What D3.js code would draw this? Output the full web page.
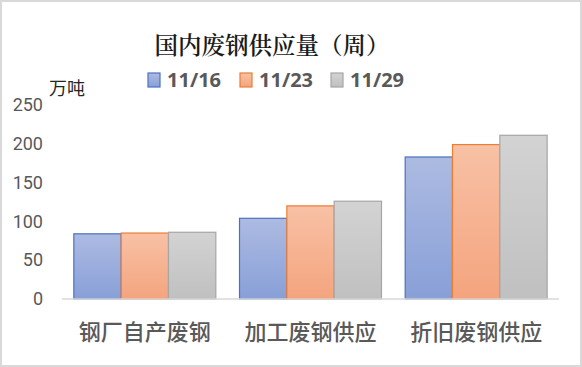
<!DOCTYPE html>
<html>
<head>
<meta charset="utf-8">
<script src="https://cdn.jsdelivr.net/npm/d3@7"></script>
<style>
  html, body { margin: 0; padding: 0; background: #fff; }
  svg { display: block; }
</style>
</head>
<body>
<div id="chart"></div>
<script>
// 数据
const categories = ["钢厂自产废钢", "加工废钢供应", "折旧废钢供应"];
const seriesNames = ["11/16", "11/23", "11/29"];
const values1116 = [84, 104, 183];
const values1123 = [85, 120, 199];
const values1129 = [86, 126, 211];
const yTicks = [0, 50, 100, 150, 200, 250];

const seriesValues = [values1116, values1123, values1129];
const palette = [
  { top: "#adbbe2", bottom: "#889fd7", stroke: "#4a72c0" },
  { top: "#f8c1a5", bottom: "#f4a47e", stroke: "#ec7d36" },
  { top: "#d3d3d3", bottom: "#c0c0c0", stroke: "#a6a6a6" }
];

const W = 582, H = 367;
const margin = { top: 105, right: 23, bottom: 68, left: 62 };

const svg = d3.select("#chart").append("svg")
  .attr("width", W).attr("height", H);

// 外框
svg.append("rect")
  .attr("x", 1).attr("y", 1).attr("width", W - 2).attr("height", H - 2)
  .attr("fill", "#fff").attr("stroke", "#d9d9d9").attr("stroke-width", 2);

// 渐变
const defs = svg.append("defs");
palette.forEach((p, i) => {
  const g = defs.append("linearGradient")
    .attr("id", "grad" + i).attr("x1", 0).attr("y1", 0).attr("x2", 0).attr("y2", 1);
  g.append("stop").attr("offset", "0%").attr("stop-color", p.top);
  g.append("stop").attr("offset", "100%").attr("stop-color", p.bottom);
});

const x0 = d3.scaleBand()
  .domain(categories)
  .range([margin.left, W - margin.right])
  .paddingInner(0.143).paddingOuter(0.0715);

const x1 = d3.scaleBand()
  .domain(seriesNames)
  .range([0, x0.bandwidth()]);

const y = d3.scaleLinear()
  .domain([0, 250])
  .range([H - margin.bottom, margin.top]);

// 柱子
categories.forEach((c, ci) => {
  seriesNames.forEach((s, si) => {
    const v = seriesValues[si][ci];
    svg.append("rect")
      .attr("x", x0(c) + x1(s))
      .attr("y", y(v))
      .attr("width", x1.bandwidth())
      .attr("height", y(0) - y(v))
      .attr("fill", `url(#grad${si})`)
      .attr("stroke", palette[si].stroke)
      .attr("stroke-width", 1.2);
  });
});

// X 轴线
svg.append("line")
  .attr("x1", margin.left).attr("x2", W - margin.right)
  .attr("y1", y(0)).attr("y2", y(0))
  .attr("stroke", "#d9d9d9").attr("stroke-width", 1.5);

// Y 轴刻度
const yAxis = svg.append("g")
  .attr("transform", "translate(43,0)")
  .call(d3.axisLeft(y).tickValues(yTicks).tickSize(0).tickPadding(0));
yAxis.select(".domain").remove();
yAxis.selectAll("text")
  .attr("font-family", "Roboto, 'Noto Sans', sans-serif")
  .attr("font-size", 18)
  .attr("fill", "#595959");

// X 轴标签
const xAxis = svg.append("g")
  .attr("transform", `translate(0,${y(0)})`)
  .call(d3.axisBottom(x0).tickSize(0).tickPadding(25));
xAxis.select(".domain").remove();
xAxis.selectAll("text")
  .attr("font-family", "'Noto Sans CJK SC', sans-serif")
  .attr("font-size", 22)
  .attr("font-weight", 500)
  .attr("fill", "#595959");

// 单位
svg.append("text")
  .attr("x", 49).attr("y", 95)
  .attr("font-family", "'Noto Sans CJK SC', sans-serif")
  .attr("font-size", 18)
  .attr("fill", "#262626")
  .text("万吨");

// 标题
svg.append("text")
  .attr("x", 272).attr("y", 54)
  .attr("text-anchor", "middle")
  .attr("font-family", "'Noto Serif CJK SC', 'Noto Sans CJK SC', serif")
  .attr("font-size", 23.5)
  .attr("font-weight", 600)
  .attr("fill", "#1a1a1a")
  .text("国内废钢供应量（周）");

// 图例
const legendX = [148, 240, 331];
seriesNames.forEach((s, i) => {
  svg.append("rect")
    .attr("x", legendX[i]).attr("y", 73)
    .attr("width", 12).attr("height", 14)
    .attr("fill", `url(#grad${i})`)
    .attr("stroke", palette[i].stroke)
    .attr("stroke-width", 1.2);
  svg.append("text")
    .attr("x", legendX[i] + 19).attr("y", 87)
    .attr("font-family", "'Noto Sans', sans-serif")
    .attr("font-size", 20)
    .attr("font-weight", "bold")
    .attr("fill", "#595959")
    .text(s);
});
</script>
</body>
</html>
